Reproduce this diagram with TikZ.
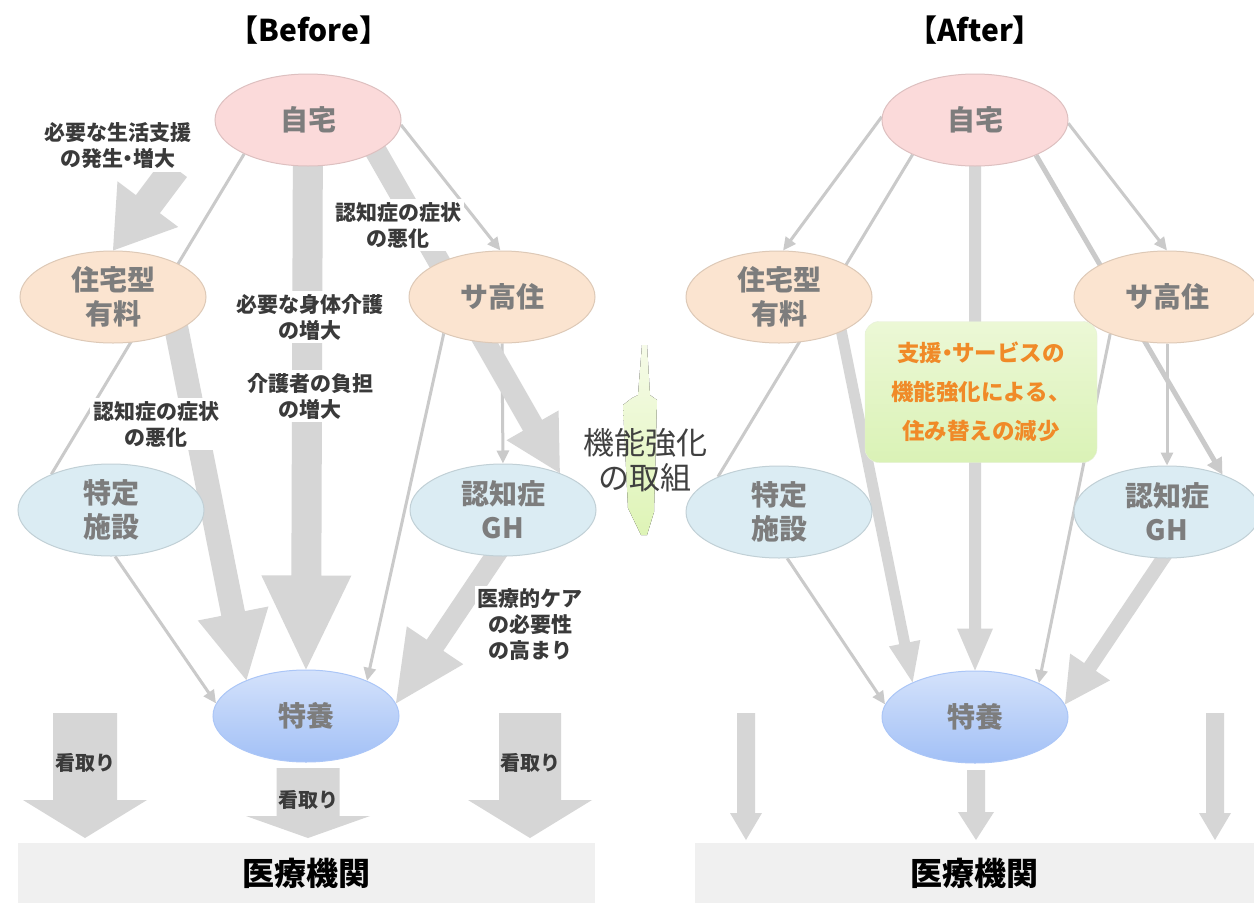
\documentclass[tikz,border=0pt]{standalone}
\usepackage{fontspec}
\setmainfont{Noto Sans CJK JP}
\usetikzlibrary{shapes.geometric,arrows.meta,calc}
\pgfdeclarelayer{back}
\pgfdeclarelayer{mid}
\pgfsetlayers{back,mid,main}
\definecolor{arrowgray}{RGB}{214,214,214}
\definecolor{linegray}{RGB}{202,202,202}
\definecolor{pinkfill}{RGB}{251,218,218}
\definecolor{peachfill}{RGB}{251,228,208}
\definecolor{bluefill}{RGB}{219,236,243}
\definecolor{nodetext}{RGB}{125,125,125}
\definecolor{labtext}{RGB}{58,58,58}
\definecolor{barfill}{RGB}{240,240,240}
\definecolor{orangetext}{RGB}{240,138,40}
\definecolor{toptoku}{RGB}{212,226,251}
\definecolor{bottoku}{RGB}{162,192,246}
\definecolor{greentop}{RGB}{236,248,214}
\definecolor{greenbot}{RGB}{218,242,182}
\newcommand{\ndot}{\kern-0.28em・\kern-0.28em}
\newcommand{\blkarrow}[6]{%
  \fill[#1] let \p1=#2, \p2=#3, \n1={atan2(\y2-\y1,\x2-\x1)} in
    ($(\p1)+(\n1+90:#4)$) --
    ($(\p2)+(\n1+180:#6)+(\n1+90:#4)$) --
    ($(\p2)+(\n1+180:#6)+(\n1+90:#5)$) --
    (\p2) --
    ($(\p2)+(\n1+180:#6)+(\n1-90:#5)$) --
    ($(\p2)+(\n1+180:#6)+(\n1-90:#4)$) --
    ($(\p1)+(\n1-90:#4)$) -- cycle;
}
\tikzset{
  place/.style={ellipse, minimum width=186pt, minimum height=92pt, inner sep=0pt,
    font=\fontsize{28}{34}\selectfont\bfseries, text=nodetext, align=center, line width=1pt},
  home/.style={place, fill=pinkfill, draw=pinkfill!88!black},
  flat/.style={place, fill=peachfill, draw=peachfill!88!black},
  care/.style={place, fill=bluefill, draw=bluefill!88!black},
  toku/.style={place, top color=toptoku, bottom color=bottoku, draw=bottoku!90!white},
  lab/.style={fill=white, inner sep=3pt, font=\fontsize{21}{26}\selectfont\bfseries, text=labtext, align=center},
  mitori/.style={font=\fontsize{20}{24}\selectfont\bfseries, text=labtext},
  thinarrow/.style={draw=linegray, line width=3pt, -{Triangle[length=13pt,width=12pt]}},
  thinline/.style={draw=linegray, line width=3pt},
  medarrow/.style={draw=linegray, line width=5pt, -{Triangle[length=16pt,width=16pt]}},
  blk/.style={fill=arrowgray},
  bar/.style={fill=barfill, minimum height=60pt, inner sep=0pt, font=\fontsize{32}{36}\selectfont\bfseries, text=black},
  title/.style={font=\fontsize{30}{34}\selectfont\bfseries, text=black},
  greenbox/.style={rounded corners=14pt, top color=greentop, bottom color=greenbot, draw=greenbot!90!black!40!white,
    minimum width=232pt, minimum height=141pt, inner sep=0pt, align=center,
    font=\fontsize{22.5}{39}\selectfont\bfseries, text=orangetext},
}
\begin{document}
\begin{tikzpicture}[x=1pt,y=-1pt]
\useasboundingbox (0,0) rectangle (1254,903);
\begin{pgfonlayer}{back}
\fill[white] (0,0) rectangle (1254,903);
\end{pgfonlayer}

% titles
\node[title] (tB) at (309,30) {【Before】};
\node[title] (tA) at (975,30) {【After】};

% bars
\begin{pgfonlayer}{back}
\node[bar, minimum width=577pt] (iryouL) at (306.5,873) {医療機関};
\node[bar, minimum width=559pt] (iryouR) at (974.5,873) {医療機関};
\end{pgfonlayer}

% ---------- BEFORE nodes ----------
\node[home] (jitakuL) at (308,120) {自宅};
\node[flat] (jutakuL) at (113,297) {住宅型\\有料};
\node[flat] (sakouL) at (502,297) {サ高住};
\node[care] (tokteiL) at (111,510) {特定\\施設};
\node[care] (ghL) at (503,510) {認知症\\GH};
\node[toku] (tokuyouL) at (306,716) {特養};

% labels (white backgrounds hide arrow parts)
\node[lab] (labA) at (118,146) {必要な生活支援\\の発生\ndot 増大};
\node[lab] (labB) at (398,225) {認知症の症状\\の悪化};
\node[lab] (labC) at (310,317) {必要な身体介護\\の増大};
\node[lab] (labD) at (310,396) {介護者の負担\\の増大};
\node[lab] (labE) at (156,424) {認知症の症状\\の悪化};
\node[lab] (labF) at (530,625) {医療的ケア\\の必要性\\の高まり};

\coordinate (a1s) at (175,168);
\coordinate (m1s) at (85,713);   \coordinate (m1e) at (85,838);
\coordinate (m2s) at (308,768);  \coordinate (m2e) at (308,838);
\coordinate (m3s) at (530,713);  \coordinate (m3e) at (530,838);

\begin{pgfonlayer}{mid}
\draw[thinline] (jitakuL.208) -- (tokteiL.149);
\draw[thinarrow] (jitakuL.-3) -- (sakouL.92);
\draw[thinarrow] (tokteiL.-85) -- (tokuyouL.172);
\draw[thinarrow] (sakouL.212) -- (tokuyouL.30);
\draw[thinarrow] (sakouL.south) -- (ghL.north);
\blkarrow{blk}{(a1s)}{(jutakuL.north)}{15pt}{38pt}{58pt}
\blkarrow{blk}{(jitakuL.center)}{(tokuyouL.north)}{15pt}{45pt}{94pt}
\blkarrow{blk}{($(jitakuL.-25)!-20pt!(ghL.33)$)}{(ghL.33)}{11pt}{30pt}{55pt}
\blkarrow{blk}{($(jutakuL.-28)!-15pt!(tokuyouL.149)$)}{(tokuyouL.149)}{12pt}{36pt}{68pt}
\blkarrow{blk}{($(ghL.-100)!-15pt!(tokuyouL.8)$)}{(tokuyouL.8)}{10pt}{34pt}{70pt}
\blkarrow{blk}{(m1s)}{(m1e)}{32pt}{62pt}{38pt}
\blkarrow{blk}{(m2s)}{(m2e)}{31.5pt}{62pt}{22pt}
\blkarrow{blk}{(m3s)}{(m3e)}{31pt}{62pt}{38pt}
\end{pgfonlayer}

\node[mitori] (mt1) at (85,763) {看取り};
\node[mitori] (mt2) at (308,800) {看取り};
\node[mitori] (mt3) at (530,763) {看取り};

% ---------- middle ----------
\fill[top color={rgb,255:red,246;green,251;blue,232}, bottom color={rgb,255:red,222;green,244;blue,182}]
  (642,345) -- (647,345) -- (650,395) -- (657,400) -- (654,512) -- (647,535) -- (641,535)
  -- (628,508) -- (623,405) -- (632,398) -- (638,395) -- cycle;
\node[font=\fontsize{31}{35}\selectfont, text={rgb,255:red,64;green,64;blue,64}, align=center] (kinou) at (645,460) {機能強化\\の取組};

% ---------- AFTER nodes ----------
\node[home] (jitakuR) at (975,120) {自宅};
\node[flat] (jutakuR) at (779,297) {住宅型\\有料};
\node[flat] (sakouR) at (1167,297) {サ高住};
\node[care] (tokteiR) at (779,512) {特定\\施設};
\node[care] (ghR) at (1167,512) {認知症\\GH};
\node[toku] (tokuyouR) at (975,717) {特養};
\node[greenbox] (gbox) at (981,392) {支援\ndot サービスの\\機能強化による、\\住み替えの減少};

\coordinate (r1s) at (746,713);  \coordinate (r1e) at (746,840);
\coordinate (r2s) at (976,770);  \coordinate (r2e) at (976,840);
\coordinate (r3s) at (1215,713); \coordinate (r3e) at (1215,840);

\begin{pgfonlayer}{mid}
\draw[thinarrow] (jitakuR.178) -- (jutakuR.85);
\draw[thinline] (jitakuR.209) -- (tokteiR.150);
\blkarrow{blk}{(jitakuR.center)}{(tokuyouR.north)}{6pt}{18pt}{42pt}
\blkarrow{blk}{($(jutakuR.-29)!-10pt!(tokuyouR.151)$)}{(tokuyouR.151)}{5.5pt}{16pt}{40pt}
\draw[thinarrow] (tokteiR.-80) -- (tokuyouR.172);
\draw[thinarrow] (sakouR.213) -- (tokuyouR.28);
\draw[medarrow] (jitakuR.-30) -- (ghR.34);
\draw[thinarrow] (jitakuR.-2) -- (sakouR.north);
\draw[thinarrow] (sakouR.south) -- (ghR.north);
\blkarrow{blk}{($(ghR.-95)!-10pt!(tokuyouR.8)$)}{(tokuyouR.8)}{7pt}{24pt}{45pt}
\blkarrow{blk}{(r1s)}{(r1e)}{9pt}{16pt}{27pt}
\blkarrow{blk}{(r2s)}{(r2e)}{9pt}{18pt}{28pt}
\blkarrow{blk}{(r3s)}{(r3e)}{9pt}{16pt}{27pt}
\end{pgfonlayer}
\end{tikzpicture}
\end{document}
